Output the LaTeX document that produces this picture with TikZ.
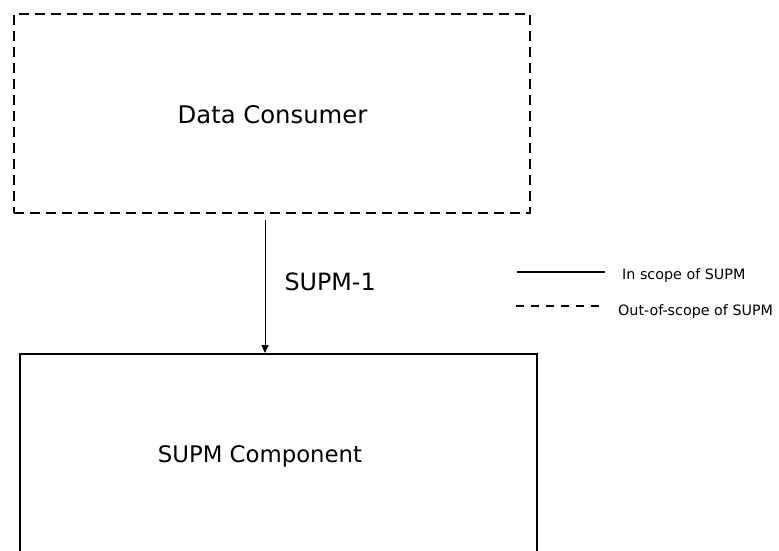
\documentclass[tikz,border=0pt]{standalone}
\usepackage{fontspec}
\setmainfont{DejaVu Sans}
\usetikzlibrary{arrows.meta}
\begin{document}
\begin{tikzpicture}[x=1pt,y=-1pt,
  boxstyle/.style={draw, line width=2pt, rectangle, inner sep=0pt},
  outscope/.style={boxstyle, dash pattern=on 10pt off 6pt},
  legtext/.style={font=\fontsize{14.3}{16}\selectfont, anchor=west, inner sep=0pt},
  flow/.style={line width=1pt, -{Triangle[length=8pt,width=7pt]}},
  legline/.style={line width=1.6pt}
]
\useasboundingbox (0,0) rectangle (779,550);
\clip (0,0) rectangle (779,550);
\node[outscope, minimum width=516pt, minimum height=199pt] (consumer) at (272,113.5) {};
\node[font=\fontsize{24.3}{27}\selectfont] (consumertext) at (272.5,115) {Data Consumer};
\node[boxstyle, minimum width=517pt, minimum height=206pt] (component) at (278.5,457) {};
\node[font=\fontsize{22.8}{26}\selectfont] (componenttext) at (260,456) {SUPM Component};
\coordinate (astart) at (265,220);
\draw[flow] (astart) -- (astart |- component.north) node[midway, anchor=west, xshift=19pt, yshift=5pt, font=\fontsize{23.8}{26}\selectfont, inner sep=0pt] (lbl) {SUPM-1};
\coordinate (l1a) at (517,272);
\coordinate (l1b) at (605,272);
\coordinate (l2a) at (516,306);
\coordinate (l2b) at (600,306);
\draw[legline] (l1a) -- (l1b);
\draw[legline, dash pattern=on 8pt off 7pt] (l2a) -- (l2b);
\node[legtext] (leg1) at (622,276) {In scope of SUPM};
\node[legtext] (leg2) at (618,312) {Out-of-scope of SUPM};
\end{tikzpicture}
\end{document}
